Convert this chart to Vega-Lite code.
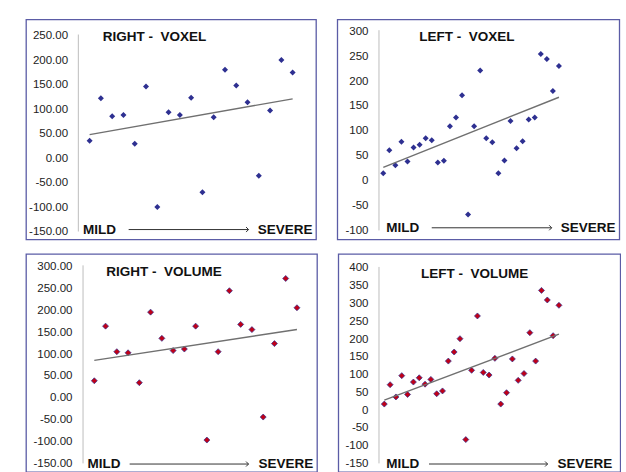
{
  "$schema": "https://vega.github.io/schema/vega-lite/v6.json",
  "background": "white",
  "padding": {"left": 25, "top": 18.5, "right": 0, "bottom": 0},
  "config": {
    "view": {"stroke": "#5b5ca6", "strokeWidth": 1.3},
    "axis": {"labelFont": "Liberation Sans", "labelFontSize": 11.5, "labelColor": "#222", "domain": false, "ticks": false, "tickSize": 0, "grid": false, "labelPadding": 11, "labelFlush": false, "labelOverlap": false},
    "text": {"font": "Liberation Sans", "fontWeight": "bold", "fontSize": 13.5, "color": "#111", "baseline": "middle"}
  },
  "datasets": {
    "rv": [
      {"x": 1, "y": 35}, {"x": 2, "y": 122}, {"x": 3, "y": 85}, {"x": 4, "y": 88}, {"x": 5, "y": 29},
      {"x": 6, "y": 146}, {"x": 7, "y": -100}, {"x": 8, "y": 93.5}, {"x": 9, "y": 88}, {"x": 10, "y": 123},
      {"x": 11, "y": -70}, {"x": 12, "y": 83}, {"x": 13, "y": 180}, {"x": 14, "y": 148}, {"x": 15, "y": 114},
      {"x": 16, "y": -36}, {"x": 17, "y": 97}, {"x": 18, "y": 200}, {"x": 19, "y": 174.5}
    ],
    "lv": [
      {"x": 1, "y": 15}, {"x": 2, "y": 61}, {"x": 3, "y": 31}, {"x": 4, "y": 78}, {"x": 5, "y": 38.5},
      {"x": 6, "y": 66.6}, {"x": 7, "y": 72}, {"x": 8, "y": 85}, {"x": 9, "y": 81}, {"x": 10, "y": 36.5},
      {"x": 11, "y": 40}, {"x": 12, "y": 109}, {"x": 13, "y": 127}, {"x": 14, "y": 171.6}, {"x": 15, "y": -68},
      {"x": 16, "y": 109}, {"x": 17, "y": 221}, {"x": 18, "y": 85}, {"x": 19, "y": 77}, {"x": 20, "y": 15},
      {"x": 21, "y": 40.5}, {"x": 22, "y": 120}, {"x": 23, "y": 65}, {"x": 24, "y": 79}, {"x": 25, "y": 123},
      {"x": 26, "y": 127}, {"x": 27, "y": 254.5}, {"x": 28, "y": 244}, {"x": 29, "y": 180}, {"x": 30, "y": 230}
    ],
    "rvol": [
      {"x": 1, "y": 39}, {"x": 2, "y": 164}, {"x": 3, "y": 105.5}, {"x": 4, "y": 103}, {"x": 5, "y": 34.6},
      {"x": 6, "y": 196}, {"x": 7, "y": 136}, {"x": 8, "y": 108}, {"x": 9, "y": 111.6}, {"x": 10, "y": 164},
      {"x": 11, "y": -96.6}, {"x": 12, "y": 105.5}, {"x": 13, "y": 245}, {"x": 14, "y": 168}, {"x": 15, "y": 156},
      {"x": 16, "y": -44}, {"x": 17, "y": 124}, {"x": 18, "y": 273}, {"x": 19, "y": 206}
    ],
    "lvol": [
      {"x": 1, "y": 17}, {"x": 2, "y": 71.5}, {"x": 3, "y": 37}, {"x": 4, "y": 97}, {"x": 5, "y": 44},
      {"x": 6, "y": 79}, {"x": 7, "y": 91}, {"x": 8, "y": 73}, {"x": 9, "y": 86.5}, {"x": 10, "y": 46},
      {"x": 11, "y": 54}, {"x": 12, "y": 138}, {"x": 13, "y": 163.5}, {"x": 14, "y": 201}, {"x": 15, "y": -83},
      {"x": 16, "y": 112}, {"x": 17, "y": 265}, {"x": 18, "y": 106}, {"x": 19, "y": 98.7}, {"x": 20, "y": 145.7},
      {"x": 21, "y": 17}, {"x": 22, "y": 49}, {"x": 23, "y": 144}, {"x": 24, "y": 83.7}, {"x": 25, "y": 103},
      {"x": 26, "y": 218}, {"x": 27, "y": 138}, {"x": 28, "y": 337}, {"x": 29, "y": 310}, {"x": 30, "y": 209.5},
      {"x": 31, "y": 295}
    ]
  },
  "vconcat": [
    {
      "spacing": 19.3,
      "hconcat": [
        {
          "width": 290, "height": 220,
          "data": {"name": "rv"},
          "layer": [
            {"data": {"values": [{}]}, "mark": {"type": "rule", "color": "#bdbdbd", "strokeWidth": 1}, "encoding": {"x": {"datum": 0, "type": "quantitative", "axis": null}, "y": {"datum": -150, "type": "quantitative"}, "y2": {"datum": 252}}},
            {"mark": {"type": "point", "shape": "diamond", "filled": true, "size": 36, "color": "#2e3091", "opacity": 1},
             "encoding": {
               "x": {"field": "x", "type": "quantitative", "scale": {"domain": [-4.64, 21.07], "nice": false, "zero": false}, "axis": null},
               "y": {"field": "y", "type": "quantitative", "title": null, "scale": {"domain": [-166.3, 282.65], "nice": false, "zero": false}, "axis": {"title": null, "orient": "left", "offset": -52.6, "labelOverlap": false, "tickCount": 50, "values": [-150, -100, -50, 0, 50, 100, 150, 200, 250], "labelExpr": "(datum.value < 0 ? '-' : '') + format(abs(datum.value), '.2f')"}}
             }},
            {"transform": [{"regression": "y", "on": "x"}], "mark": {"type": "line", "color": "#707070", "strokeWidth": 1.4}, "encoding": {"x": {"field": "x", "type": "quantitative", "axis": null}, "y": {"field": "y", "type": "quantitative", "title": null}}},
            {"data": {"values": [{}]}, "mark": {"type": "text", "text": "RIGHT -\u00a0 VOXEL", "align": "center"}, "encoding": {"x": {"datum": 6.75, "type": "quantitative", "axis": null}, "y": {"datum": 246, "type": "quantitative"}}},
            {"data": {"values": [{}]}, "mark": {"type": "text", "text": "MILD", "align": "left"}, "encoding": {"x": {"datum": 0.41, "type": "quantitative", "axis": null}, "y": {"datum": -146, "type": "quantitative"}}},
            {"data": {"values": [{}]}, "mark": {"type": "text", "text": "SEVERE", "align": "right"}, "encoding": {"x": {"datum": 20.77, "type": "quantitative", "axis": null}, "y": {"datum": -146, "type": "quantitative"}}},
            {"data": {"values": [{}]}, "mark": {"type": "rule", "color": "#333", "strokeWidth": 1}, "encoding": {"x": {"datum": 4.46, "type": "quantitative", "axis": null}, "x2": {"datum": 15.09}, "y": {"datum": -146, "type": "quantitative"}}},
            {"data": {"values": [{}]}, "mark": {"type": "point", "shape": "M-1,-1L0,0L-1,1", "filled": false, "size": 25, "color": "#333", "strokeWidth": 1, "opacity": 1}, "encoding": {"x": {"datum": 15.09, "type": "quantitative", "axis": null}, "y": {"datum": -146, "type": "quantitative"}}}
          ]
        },
        {
          "width": 282, "height": 220,
          "data": {"name": "lv"},
          "layer": [
            {"data": {"values": [{}]}, "mark": {"type": "rule", "color": "#bdbdbd", "strokeWidth": 1}, "encoding": {"x": {"datum": 0.29, "type": "quantitative", "axis": null}, "y": {"datum": -100, "type": "quantitative"}, "y2": {"datum": 302}}},
            {"mark": {"type": "point", "shape": "diamond", "filled": true, "size": 36, "color": "#2e3091", "opacity": 1},
             "encoding": {
               "x": {"field": "x", "type": "quantitative", "scale": {"domain": [-6.59, 39.96], "nice": false, "zero": false}, "axis": null},
               "y": {"field": "y", "type": "quantitative", "title": null, "scale": {"domain": [-118.1, 323.5], "nice": false, "zero": false}, "axis": {"title": null, "orient": "left", "offset": -41.7, "labelOverlap": false, "tickCount": 50, "values": [-100, -50, 0, 50, 100, 150, 200, 250, 300], "labelExpr": "(datum.value < 0 ? '-' : '') + format(abs(datum.value), 'd')"}}
             }},
            {"transform": [{"regression": "y", "on": "x"}], "mark": {"type": "line", "color": "#707070", "strokeWidth": 1.4}, "encoding": {"x": {"field": "x", "type": "quantitative", "axis": null}, "y": {"field": "y", "type": "quantitative", "title": null}}},
            {"data": {"values": [{}]}, "mark": {"type": "text", "text": "LEFT -\u00a0 VOXEL", "align": "center"}, "encoding": {"x": {"datum": 14.79, "type": "quantitative", "axis": null}, "y": {"datum": 289, "type": "quantitative"}}},
            {"data": {"values": [{}]}, "mark": {"type": "text", "text": "MILD", "align": "left"}, "encoding": {"x": {"datum": 1.5, "type": "quantitative", "axis": null}, "y": {"datum": -94.6, "type": "quantitative"}}},
            {"data": {"values": [{}]}, "mark": {"type": "text", "text": "SEVERE", "align": "right"}, "encoding": {"x": {"datum": 39.35, "type": "quantitative", "axis": null}, "y": {"datum": -94.6, "type": "quantitative"}}},
            {"data": {"values": [{}]}, "mark": {"type": "rule", "color": "#333", "strokeWidth": 1}, "encoding": {"x": {"datum": 9.0, "type": "quantitative", "axis": null}, "x2": {"datum": 28.8}, "y": {"datum": -94.6, "type": "quantitative"}}},
            {"data": {"values": [{}]}, "mark": {"type": "point", "shape": "M-1,-1L0,0L-1,1", "filled": false, "size": 25, "color": "#333", "strokeWidth": 1, "opacity": 1}, "encoding": {"x": {"datum": 28.8, "type": "quantitative", "axis": null}, "y": {"datum": -94.6, "type": "quantitative"}}}
          ]
        }
      ]
    },
    {
      "spacing": 19.3,
      "hconcat": [
        {
          "width": 291, "height": 218,
          "data": {"name": "rvol"},
          "layer": [
            {"data": {"values": [{}]}, "mark": {"type": "rule", "color": "#bdbdbd", "strokeWidth": 1}, "encoding": {"x": {"datum": 0, "type": "quantitative", "axis": null}, "y": {"datum": -150, "type": "quantitative"}, "y2": {"datum": 303}}},
            {"mark": {"type": "point", "shape": "diamond", "filled": true, "size": 36, "fill": "#c00018", "stroke": "#2e3091", "strokeWidth": 0.7, "opacity": 1},
             "encoding": {
               "x": {"field": "x", "type": "quantitative", "scale": {"domain": [-5.066, 20.78], "nice": false, "zero": false}, "axis": null},
               "y": {"field": "y", "type": "quantitative", "title": null, "scale": {"domain": [-169.7, 329], "nice": false, "zero": false}, "axis": {"title": null, "orient": "left", "offset": -57, "labelOverlap": false, "tickCount": 50, "values": [-150, -100, -50, 0, 50, 100, 150, 200, 250, 300], "labelExpr": "(datum.value < 0 ? '-' : '') + format(abs(datum.value), '.2f')"}}
             }},
            {"transform": [{"regression": "y", "on": "x"}], "mark": {"type": "line", "color": "#707070", "strokeWidth": 1.4}, "encoding": {"x": {"field": "x", "type": "quantitative", "axis": null}, "y": {"field": "y", "type": "quantitative", "title": null}}},
            {"data": {"values": [{}]}, "mark": {"type": "text", "text": "RIGHT -\u00a0 VOLUME", "align": "center"}, "encoding": {"x": {"datum": 7.2, "type": "quantitative", "axis": null}, "y": {"datum": 287, "type": "quantitative"}}},
            {"data": {"values": [{}]}, "mark": {"type": "text", "text": "MILD", "align": "left"}, "encoding": {"x": {"datum": 0.4, "type": "quantitative", "axis": null}, "y": {"datum": -151.5, "type": "quantitative"}}},
            {"data": {"values": [{}]}, "mark": {"type": "text", "text": "SEVERE", "align": "right"}, "encoding": {"x": {"datum": 20.45, "type": "quantitative", "axis": null}, "y": {"datum": -151.5, "type": "quantitative"}}},
            {"data": {"values": [{}]}, "mark": {"type": "rule", "color": "#333", "strokeWidth": 1}, "encoding": {"x": {"datum": 4.14, "type": "quantitative", "axis": null}, "x2": {"datum": 14.7}, "y": {"datum": -151.5, "type": "quantitative"}}},
            {"data": {"values": [{}]}, "mark": {"type": "point", "shape": "M-1,-1L0,0L-1,1", "filled": false, "size": 25, "color": "#333", "strokeWidth": 1, "opacity": 1}, "encoding": {"x": {"datum": 14.7, "type": "quantitative", "axis": null}, "y": {"datum": -151.5, "type": "quantitative"}}}
          ]
        },
        {
          "width": 282, "height": 218,
          "data": {"name": "lvol"},
          "layer": [
            {"data": {"values": [{}]}, "mark": {"type": "rule", "color": "#bdbdbd", "strokeWidth": 1}, "encoding": {"x": {"datum": 0.09, "type": "quantitative", "axis": null}, "y": {"datum": -150, "type": "quantitative"}, "y2": {"datum": 403}}},
            {"mark": {"type": "point", "shape": "diamond", "filled": true, "size": 36, "fill": "#c00018", "stroke": "#2e3091", "strokeWidth": 0.7, "opacity": 1},
             "encoding": {
               "x": {"field": "x", "type": "quantitative", "scale": {"domain": [-6.9, 41.54], "nice": false, "zero": false}, "axis": null},
               "y": {"field": "y", "type": "quantitative", "title": null, "scale": {"domain": [-174.2, 439.4], "nice": false, "zero": false}, "axis": {"title": null, "orient": "left", "offset": -40.7, "labelOverlap": false, "tickCount": 50, "values": [-150, -100, -50, 0, 50, 100, 150, 200, 250, 300, 350, 400], "labelExpr": "(datum.value < 0 ? '-' : '') + format(abs(datum.value), 'd')"}}
             }},
            {"transform": [{"regression": "y", "on": "x"}], "mark": {"type": "line", "color": "#707070", "strokeWidth": 1.4}, "encoding": {"x": {"field": "x", "type": "quantitative", "axis": null}, "y": {"field": "y", "type": "quantitative", "title": null}}},
            {"data": {"values": [{}]}, "mark": {"type": "text", "text": "LEFT -\u00a0 VOLUME", "align": "center"}, "encoding": {"x": {"datum": 16.5, "type": "quantitative", "axis": null}, "y": {"datum": 383, "type": "quantitative"}}},
            {"data": {"values": [{}]}, "mark": {"type": "text", "text": "MILD", "align": "left"}, "encoding": {"x": {"datum": 1.34, "type": "quantitative", "axis": null}, "y": {"datum": -151.7, "type": "quantitative"}}},
            {"data": {"values": [{}]}, "mark": {"type": "text", "text": "SEVERE", "align": "right"}, "encoding": {"x": {"datum": 40.16, "type": "quantitative", "axis": null}, "y": {"datum": -151.7, "type": "quantitative"}}},
            {"data": {"values": [{}]}, "mark": {"type": "rule", "color": "#333", "strokeWidth": 1}, "encoding": {"x": {"datum": 8.68, "type": "quantitative", "axis": null}, "x2": {"datum": 29.05}, "y": {"datum": -151.7, "type": "quantitative"}}},
            {"data": {"values": [{}]}, "mark": {"type": "point", "shape": "M-1,-1L0,0L-1,1", "filled": false, "size": 25, "color": "#333", "strokeWidth": 1, "opacity": 1}, "encoding": {"x": {"datum": 29.05, "type": "quantitative", "axis": null}, "y": {"datum": -151.7, "type": "quantitative"}}}
          ]
        }
      ]
    }
  ],
  "spacing": 12.5
}
